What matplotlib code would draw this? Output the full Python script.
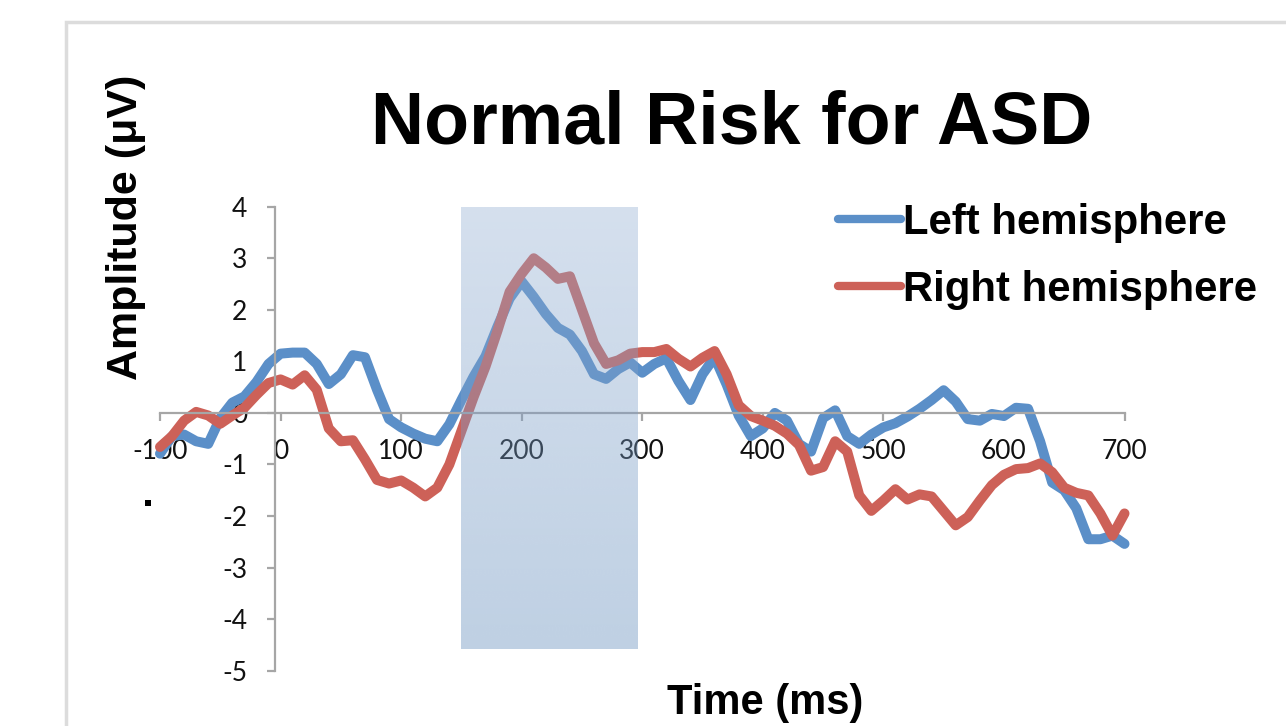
import numpy as np
import matplotlib.pyplot as plt
from matplotlib.patches import Rectangle

# ERP waveforms, sampled every 10 ms from -100 to 700 ms
time_ms = list(range(-100, 701, 10))

left_hemi = [-0.79, -0.45, -0.42, -0.55, -0.60, -0.10, 0.20, 0.32, 0.60, 0.95,
             1.15, 1.17, 1.17, 0.95, 0.56, 0.75, 1.12, 1.08, 0.45, -0.12,
             -0.28, -0.40, -0.50, -0.55, -0.22, 0.25, 0.70, 1.10, 1.68, 2.22,
             2.55, 2.25, 1.92, 1.65, 1.52, 1.20, 0.75, 0.66, 0.85, 0.98,
             0.78, 0.95, 1.06, 0.62, 0.25, 0.75, 1.08, 0.55, -0.05, -0.45,
             -0.30, 0.00, -0.15, -0.60, -0.75, -0.10, 0.05, -0.45, -0.60, -0.42,
             -0.28, -0.20, -0.07, 0.08, 0.25, 0.44, 0.22, -0.12, -0.15, -0.02,
             -0.06, 0.10, 0.08, -0.55, -1.35, -1.50, -1.85, -2.45, -2.45, -2.38,
             -2.54]

right_hemi = [-0.66, -0.45, -0.15, 0.02, -0.05, -0.21, -0.05, 0.10, 0.35, 0.58,
              0.65, 0.55, 0.73, 0.45, -0.30, -0.55, -0.53, -0.90, -1.30, -1.37,
              -1.31, -1.45, -1.62, -1.45, -1.00, -0.35, 0.30, 0.90, 1.60, 2.35,
              2.70, 3.00, 2.82, 2.60, 2.65, 2.00, 1.35, 0.95, 1.02, 1.15,
              1.18, 1.18, 1.24, 1.05, 0.90, 1.07, 1.20, 0.75, 0.15, -0.06,
              -0.15, -0.25, -0.40, -0.62, -1.12, -1.05, -0.55, -0.75, -1.60, -1.90,
              -1.70, -1.48, -1.68, -1.58, -1.62, -1.90, -2.18, -2.02, -1.70, -1.40,
              -1.20, -1.09, -1.07, -0.98, -1.15, -1.45, -1.55, -1.60, -1.95, -2.38,
              -1.95]

# analysis window highlighted on the plot
window = (150, 296)
window_y = (-4.57, 4.03)

x_ticks = [-100, 0, 100, 200, 300, 400, 500, 600, 700]
y_ticks = [-5, -4, -3, -2, -1, 0, 1, 2, 3, 4]

blue = '#5b8fc8'
red = '#cd6158'
axis_grey = '#a6a6a6'

fig = plt.figure(figsize=(12.86, 7.26), dpi=100)
ax = fig.add_axes([160 / 1286, 1 - 670.7 / 726, 964.5 / 1286, 464 / 726])

ax.plot(time_ms, left_hemi, color=blue, lw=7.2, solid_capstyle='round',
        solid_joinstyle='round', clip_on=False, zorder=2, label='Left hemisphere')
ax.plot(time_ms, right_hemi, color=red, lw=7.2, solid_capstyle='round',
        solid_joinstyle='round', clip_on=False, zorder=2, label='Right hemisphere')

# translucent gradient box over the window
top_c = np.array([150, 177, 212]) / 255
bot_c = np.array([95, 138, 186]) / 255
t = np.linspace(0, 1, 256)[:, None]
grad = top_c * (1 - t) + bot_c * t
grad = np.concatenate([grad, np.full((256, 1), 0.4)], axis=1)[:, None, :]
ax.imshow(grad, extent=[window[0], window[1], window_y[0], window_y[1]],
          aspect='auto', origin='upper', zorder=3, interpolation='bilinear')

ax.set_xlim(-100, 700)
ax.set_ylim(-5, 4)

for s in ['top', 'right']:
    ax.spines[s].set_visible(False)
ax.spines['bottom'].set_position(('data', 0))
ax.spines['left'].set_position(('data', -4.5))
ax.spines['bottom'].set_color(axis_grey)
ax.spines['left'].set_color(axis_grey)
ax.spines['bottom'].set_linewidth(1.6)
ax.spines['left'].set_linewidth(1.6)
ax.spines['left'].set_bounds(-5, 4)

ax.set_xticks(x_ticks)
ax.set_yticks(y_ticks)
ax.set_xticklabels([str(v) for v in x_ticks])
ax.set_yticklabels([str(v) for v in y_ticks])
ax.tick_params(axis='x', direction='out', length=6, width=1.6, color=axis_grey,
               pad=13, labelsize=19, labelcolor='#111111')
ax.tick_params(axis='y', direction='out', length=6, width=1.6, color=axis_grey,
               pad=14, labelsize=19, labelcolor='#111111')
for lab in ax.get_xticklabels() + ax.get_yticklabels():
    lab.set_family('Lato')
ax.patch.set_alpha(0)

fig.text(732, 726 - 124, 'Normal Risk for ASD', transform=None,
         ha='center', va='center', fontsize=53, fontweight='bold',
         family='Liberation Sans')
fig.text(126 / 1286, 1 - 227 / 726, 'Amplitude (μV)', rotation=90,
         ha='center', va='center', fontsize=31, fontweight='bold',
         family='Liberation Sans')
fig.text(765 / 1286, 1 - 703 / 726, 'Time (ms)', ha='center', va='center',
         fontsize=30, fontweight='bold', family='Liberation Sans')

leg = ax.legend(loc='upper left', bbox_to_anchor=(838 / 1286, 1 - 203 / 726),
                bbox_transform=fig.transFigure, frameon=False,
                prop={'family': 'Liberation Sans', 'weight': 'bold', 'size': 30.2},
                handlelength=1.5, handletextpad=0.05, labelspacing=0.64,
                borderpad=0, borderaxespad=0)
for h in leg.get_lines():
    h.set_linewidth(6)
    h.set_solid_capstyle('round')

# chart frame border
fig.add_artist(Rectangle((66 / 1286, -0.1), 1.2, 1.1 - 22 / 726,
                         transform=fig.transFigure, fill=False,
                         edgecolor='#dcdcdc', lw=2.5))
fig.add_artist(Rectangle((145 / 1286, 1 - 506 / 726), 6 / 1286, 6 / 726,
                         transform=fig.transFigure, color='black', lw=0))

fig.savefig('out.png', dpi=100)
